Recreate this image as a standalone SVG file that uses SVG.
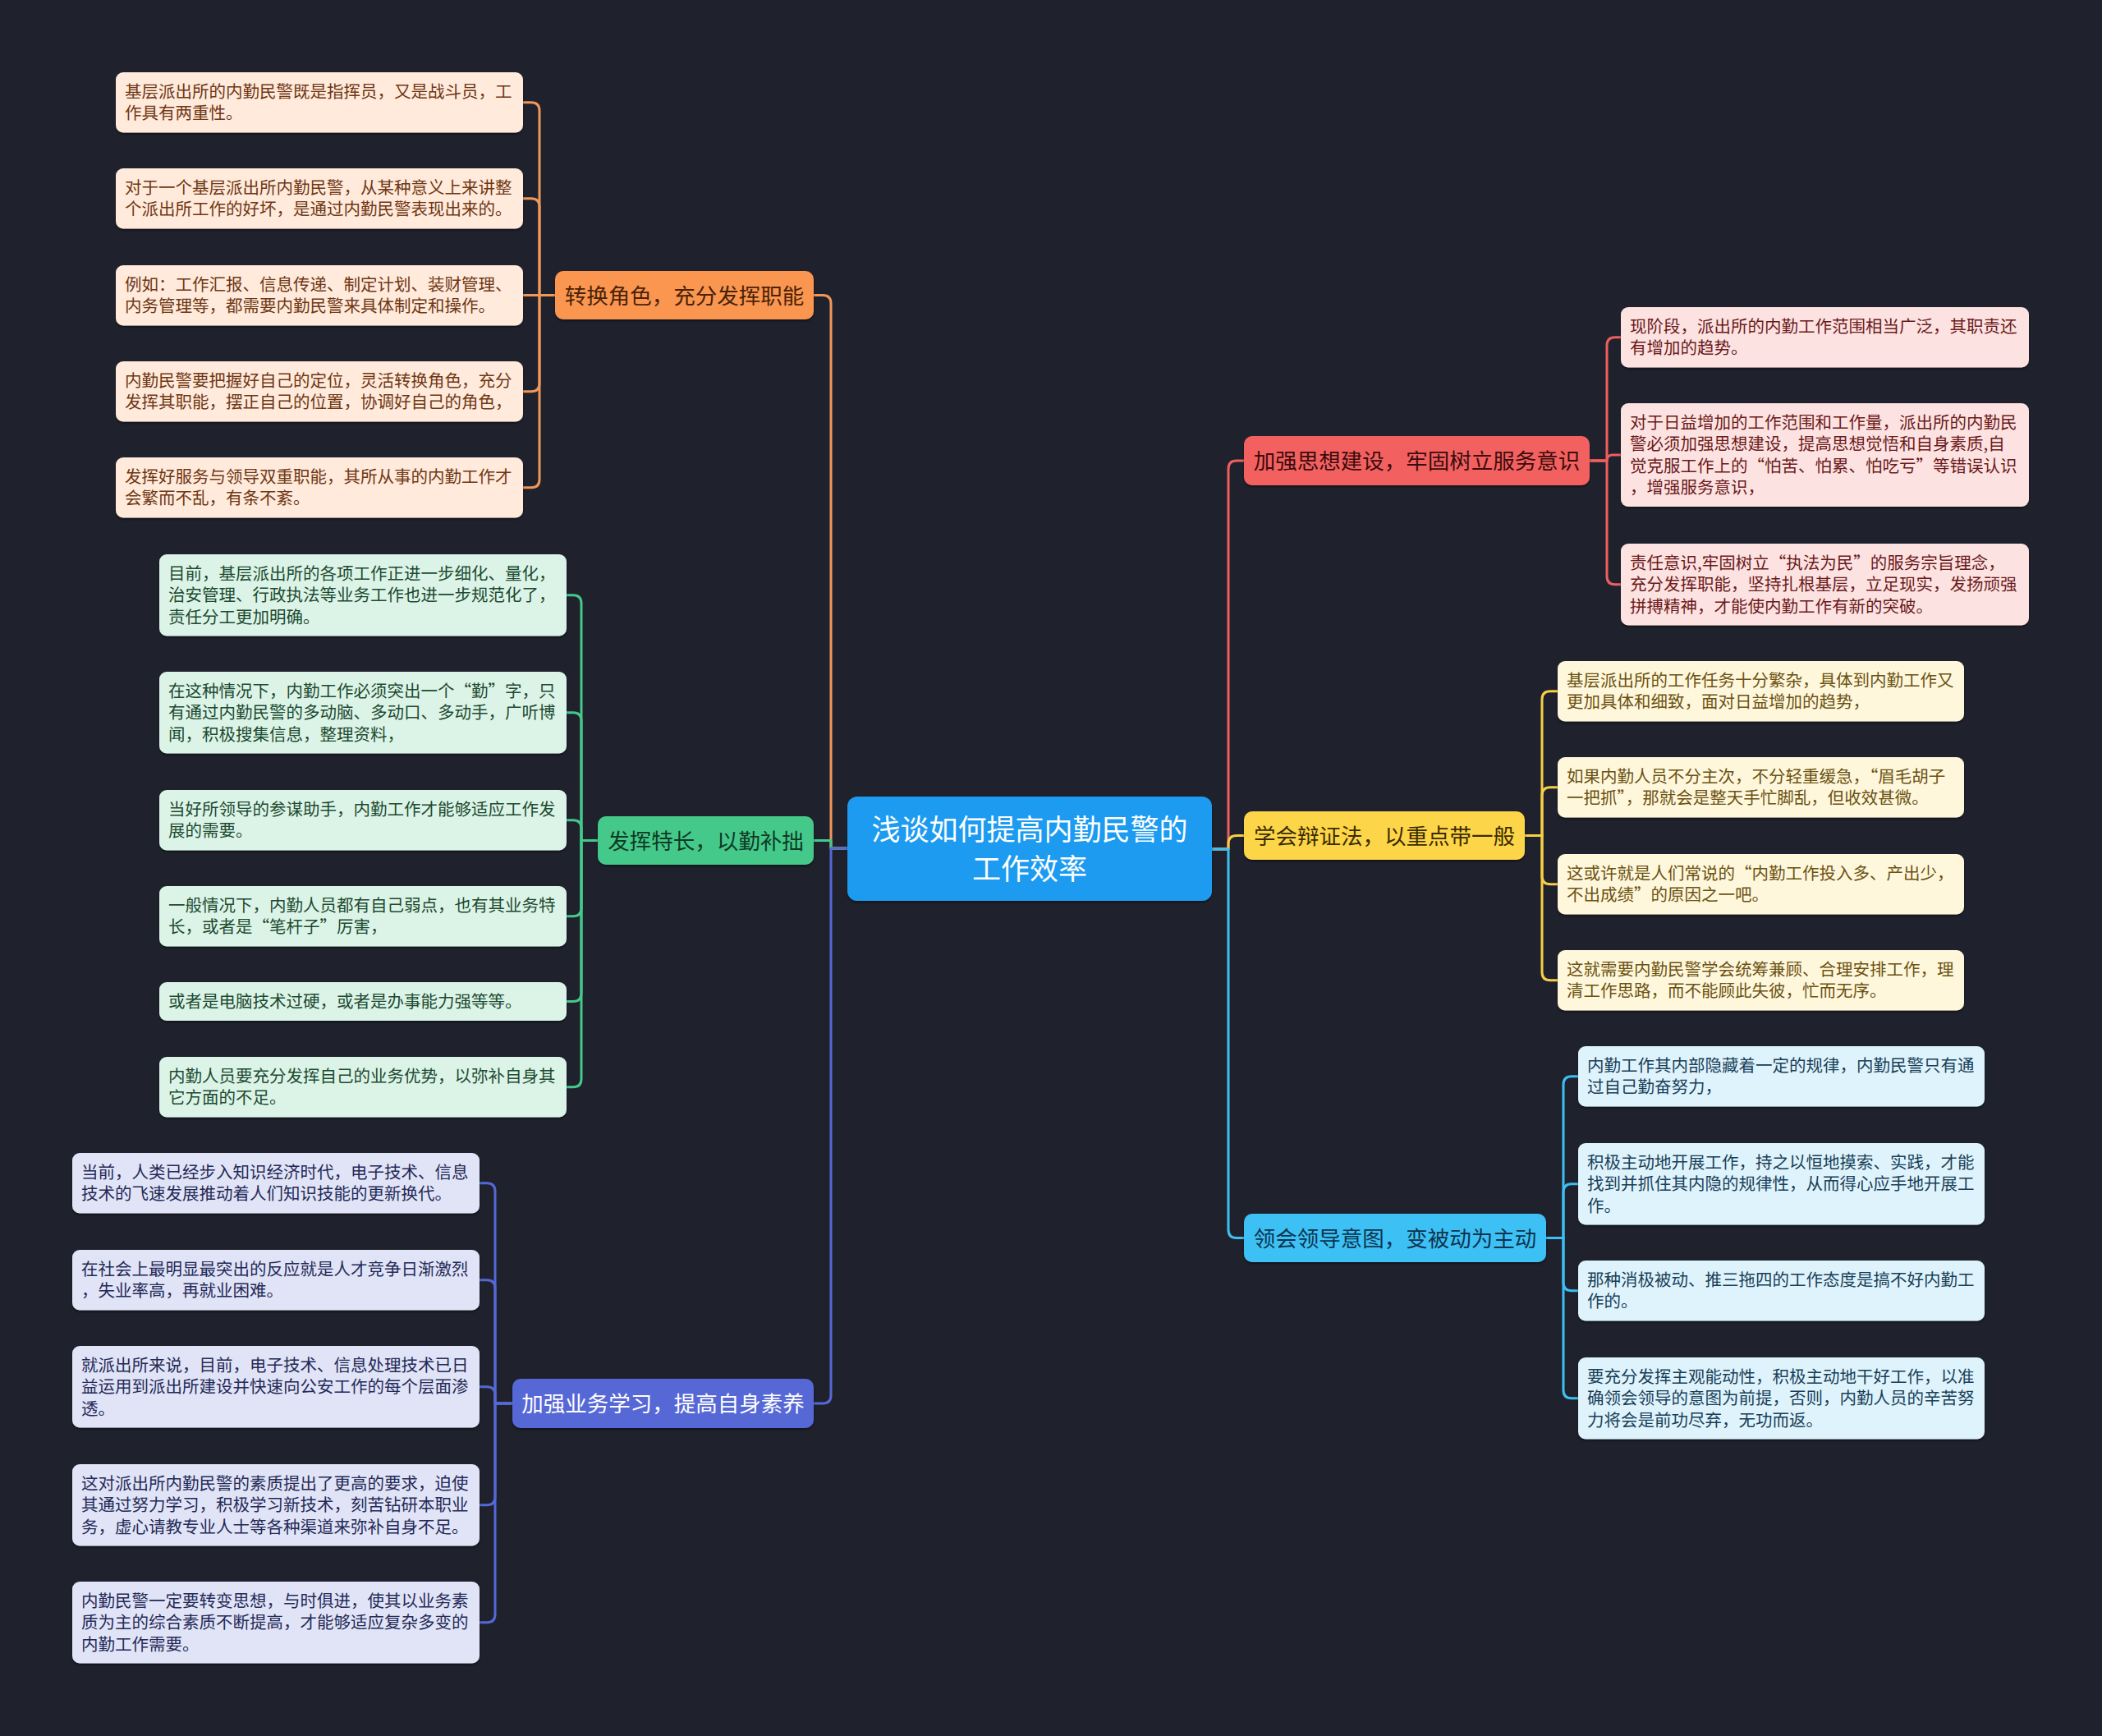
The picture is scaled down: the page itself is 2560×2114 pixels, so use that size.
<svg xmlns="http://www.w3.org/2000/svg" width="2560" height="2114" viewBox="0 0 2560 2114">
<defs>
<style>
text{font-family:"Noto Sans CJK SC","Noto Sans",sans-serif;}
.leaf{font-size:20.5px;}
.br{font-size:26.5px;text-anchor:middle;}
.ct{font-size:35px;text-anchor:middle;fill:#ffffff;}
.c path{fill:none;stroke-width:3;stroke-linecap:round;stroke-linejoin:round;}
.box{filter:url(#sh);}
</style>
<filter id="sh" x="-5%" y="-10%" width="110%" height="130%">
<feDropShadow dx="0" dy="2" stdDeviation="1.5" flood-color="#000000" flood-opacity="0.45"/>
</filter>
</defs>
<rect width="2560" height="2114" fill="#1f222d"/>

<g id="connectors" class="c">
<g stroke="#f0975a">
<path d="M991 359.5 H1002 Q1012 359.5 1012 369.5 V1033 H1032"/>
<path d="M676 359.5 H657 V134.75 Q657 124.75 647 124.75 H637"/>
<path d="M676 359.5 H657 V251.75 Q657 241.75 647 241.75 H637"/>
<path d="M676 359.5 H637"/>
<path d="M676 359.5 H657 V466.75 Q657 476.75 647 476.75 H637"/>
<path d="M676 359.5 H657 V583.75 Q657 593.75 647 593.75 H637"/>
</g>
<g stroke="#45c98b">
<path d="M991 1023.5 H1012 V1033 H1032"/>
<path d="M728 1023.5 H708 V734.75 Q708 724.75 698 724.75 H690"/>
<path d="M728 1023.5 H708 V877.75 Q708 867.75 698 867.75 H690"/>
<path d="M728 1023.5 H708 V1008.75 Q708 998.75 698 998.75 H690"/>
<path d="M728 1023.5 H708 V1105.75 Q708 1115.75 698 1115.75 H690"/>
<path d="M728 1023.5 H708 V1209.5 Q708 1219.5 698 1219.5 H690"/>
<path d="M728 1023.5 H708 V1313.75 Q708 1323.75 698 1323.75 H690"/>
</g>
<g stroke="#5668d6">
<path d="M991 1709 H1002 Q1012 1709 1012 1699 V1033 H1032"/>
<path d="M624 1709 H603 V1450.75 Q603 1440.75 593 1440.75 H584"/>
<path d="M624 1709 H603 V1568.75 Q603 1558.75 593 1558.75 H584"/>
<path d="M624 1709 H603 V1698.75 Q603 1688.75 593 1688.75 H584"/>
<path d="M624 1709 H603 V1822.75 Q603 1832.75 593 1832.75 H584"/>
<path d="M624 1709 H603 V1965.75 Q603 1975.75 593 1975.75 H584"/>
</g>
<g stroke="#ee5f5f">
<path d="M1476 1034 H1496 V571 Q1496 561 1506 561 H1515"/>
<path d="M1936 561 H1957 V420.75 Q1957 410.75 1967 410.75 H1974"/>
<path d="M1936 561 H1957 Q1957 554 1964 554 H1974"/>
<path d="M1936 561 H1957 V701.75 Q1957 711.75 1967 711.75 H1974"/>
</g>
<g stroke="#f7cf45">
<path d="M1476 1034 H1496 V1027.5 Q1496 1017.5 1506 1017.5 H1515"/>
<path d="M1857 1017.5 H1878 V851.75 Q1878 841.75 1888 841.75 H1897"/>
<path d="M1857 1017.5 H1878 V968.75 Q1878 958.75 1888 958.75 H1897"/>
<path d="M1857 1017.5 H1878 V1066.75 Q1878 1076.75 1888 1076.75 H1897"/>
<path d="M1857 1017.5 H1878 V1183.75 Q1878 1193.75 1888 1193.75 H1897"/>
</g>
<g stroke="#3ebff3">
<path d="M1476 1034 H1496 V1497.5 Q1496 1507.5 1506 1507.5 H1515"/>
<path d="M1883 1507.5 H1904 V1320.75 Q1904 1310.75 1914 1310.75 H1922"/>
<path d="M1883 1507.5 H1904 V1451.75 Q1904 1441.75 1914 1441.75 H1922"/>
<path d="M1883 1507.5 H1904 V1561.75 Q1904 1571.75 1914 1571.75 H1922"/>
<path d="M1883 1507.5 H1904 V1692.75 Q1904 1702.75 1914 1702.75 H1922"/>
</g>
</g>

<g id="root">
<rect class="box" x="1032" y="970" width="444" height="127" rx="12" fill="#1e9bf0"/>
<text class="ct"><tspan x="1254" y="1023">浅谈如何提高内勤民警的</tspan><tspan x="1254" y="1071">工作效率</tspan></text>
</g>

<!-- Orange branch -->
<g id="b1">
<rect class="box" x="676" y="330" width="315" height="59" rx="10" fill="#fa9650"/>
<text class="br" x="833.5" y="369.5" fill="#4a2208">转换角色，充分发挥职能</text>
</g>
<g id="b1l1"><rect class="box" x="141" y="88" width="496" height="73.5" rx="9" fill="#ffeadb"/>
<text class="leaf" fill="#6f3714"><tspan x="152" y="118.75">基层派出所的内勤民警既是指挥员，又是战斗员，工</tspan><tspan x="152" y="145.25">作具有两重性。</tspan></text></g>
<g id="b1l2"><rect class="box" x="141" y="205" width="496" height="73.5" rx="9" fill="#ffeadb"/>
<text class="leaf" fill="#6f3714"><tspan x="152" y="235.75">对于一个基层派出所内勤民警，从某种意义上来讲整</tspan><tspan x="152" y="262.25">个派出所工作的好坏，是通过内勤民警表现出来的。</tspan></text></g>
<g id="b1l3"><rect class="box" x="141" y="323" width="496" height="73.5" rx="9" fill="#ffeadb"/>
<text class="leaf" fill="#6f3714"><tspan x="152" y="353.75">例如：工作汇报、信息传递、制定计划、装财管理、</tspan><tspan x="152" y="380.25">内务管理等，都需要内勤民警来具体制定和操作。</tspan></text></g>
<g id="b1l4"><rect class="box" x="141" y="440" width="496" height="73.5" rx="9" fill="#ffeadb"/>
<text class="leaf" fill="#6f3714"><tspan x="152" y="470.75">内勤民警要把握好自己的定位，灵活转换角色，充分</tspan><tspan x="152" y="497.25">发挥其职能，摆正自己的位置，协调好自己的角色，</tspan></text></g>
<g id="b1l5"><rect class="box" x="141" y="557" width="496" height="73.5" rx="9" fill="#ffeadb"/>
<text class="leaf" fill="#6f3714"><tspan x="152" y="587.75">发挥好服务与领导双重职能，其所从事的内勤工作才</tspan><tspan x="152" y="614.25">会繁而不乱，有条不紊。</tspan></text></g>

<!-- Green branch -->
<g id="b2">
<rect class="box" x="728" y="994" width="263" height="59" rx="10" fill="#45c98b"/>
<text class="br" x="859.5" y="1033.5" fill="#0e3b24">发挥特长，以勤补拙</text>
</g>
<g id="b2l1"><rect class="box" x="194" y="675" width="496" height="99.5" rx="9" fill="#dcf4e7"/>
<text class="leaf" fill="#1d4a31"><tspan x="205" y="705.75">目前，基层派出所的各项工作正进一步细化、量化，</tspan><tspan x="205" y="732.25">治安管理、行政执法等业务工作也进一步规范化了，</tspan><tspan x="205" y="758.75">责任分工更加明确。</tspan></text></g>
<g id="b2l2"><rect class="box" x="194" y="818" width="496" height="99.5" rx="9" fill="#dcf4e7"/>
<text class="leaf" fill="#1d4a31"><tspan x="205" y="848.75">在这种情况下，内勤工作必须突出一个“勤”字，只</tspan><tspan x="205" y="875.25">有通过内勤民警的多动脑、多动口、多动手，广听博</tspan><tspan x="205" y="901.75">闻，积极搜集信息，整理资料，</tspan></text></g>
<g id="b2l3"><rect class="box" x="194" y="962" width="496" height="73.5" rx="9" fill="#dcf4e7"/>
<text class="leaf" fill="#1d4a31"><tspan x="205" y="992.75">当好所领导的参谋助手，内勤工作才能够适应工作发</tspan><tspan x="205" y="1019.25">展的需要。</tspan></text></g>
<g id="b2l4"><rect class="box" x="194" y="1079" width="496" height="73.5" rx="9" fill="#dcf4e7"/>
<text class="leaf" fill="#1d4a31"><tspan x="205" y="1109.75">一般情况下，内勤人员都有自己弱点，也有其业务特</tspan><tspan x="205" y="1136.25">长，或者是“笔杆子”厉害，</tspan></text></g>
<g id="b2l5"><rect class="box" x="194" y="1196" width="496" height="47" rx="9" fill="#dcf4e7"/>
<text class="leaf" fill="#1d4a31"><tspan x="205" y="1226.75">或者是电脑技术过硬，或者是办事能力强等等。</tspan></text></g>
<g id="b2l6"><rect class="box" x="194" y="1287" width="496" height="73.5" rx="9" fill="#dcf4e7"/>
<text class="leaf" fill="#1d4a31"><tspan x="205" y="1317.75">内勤人员要充分发挥自己的业务优势，以弥补自身其</tspan><tspan x="205" y="1344.25">它方面的不足。</tspan></text></g>

<!-- Purple branch -->
<g id="b3">
<rect class="box" x="624" y="1679" width="367" height="60" rx="10" fill="#5668d6"/>
<text class="br" x="807.5" y="1719" fill="#ffffff">加强业务学习，提高自身素养</text>
</g>
<g id="b3l1"><rect class="box" x="88" y="1404" width="496" height="73.5" rx="9" fill="#e1e4f6"/>
<text class="leaf" fill="#242a58"><tspan x="99" y="1434.75">当前，人类已经步入知识经济时代，电子技术、信息</tspan><tspan x="99" y="1461.25">技术的飞速发展推动着人们知识技能的更新换代。</tspan></text></g>
<g id="b3l2"><rect class="box" x="88" y="1522" width="496" height="73.5" rx="9" fill="#e1e4f6"/>
<text class="leaf" fill="#242a58"><tspan x="99" y="1552.75">在社会上最明显最突出的反应就是人才竞争日渐激烈</tspan><tspan x="99" y="1579.25">，失业率高，再就业困难。</tspan></text></g>
<g id="b3l3"><rect class="box" x="88" y="1639" width="496" height="99.5" rx="9" fill="#e1e4f6"/>
<text class="leaf" fill="#242a58"><tspan x="99" y="1669.75">就派出所来说，目前，电子技术、信息处理技术已日</tspan><tspan x="99" y="1696.25">益运用到派出所建设并快速向公安工作的每个层面渗</tspan><tspan x="99" y="1722.75">透。</tspan></text></g>
<g id="b3l4"><rect class="box" x="88" y="1783" width="496" height="99.5" rx="9" fill="#e1e4f6"/>
<text class="leaf" fill="#242a58"><tspan x="99" y="1813.75">这对派出所内勤民警的素质提出了更高的要求，迫使</tspan><tspan x="99" y="1840.25">其通过努力学习，积极学习新技术，刻苦钻研本职业</tspan><tspan x="99" y="1866.75">务，虚心请教专业人士等各种渠道来弥补自身不足。</tspan></text></g>
<g id="b3l5"><rect class="box" x="88" y="1926" width="496" height="99.5" rx="9" fill="#e1e4f6"/>
<text class="leaf" fill="#242a58"><tspan x="99" y="1956.75">内勤民警一定要转变思想，与时俱进，使其以业务素</tspan><tspan x="99" y="1983.25">质为主的综合素质不断提高，才能够适应复杂多变的</tspan><tspan x="99" y="2009.75">内勤工作需要。</tspan></text></g>

<!-- Red branch -->
<g id="b4">
<rect class="box" x="1515" y="531" width="421" height="60" rx="10" fill="#f26060"/>
<text class="br" x="1725.5" y="571" fill="#3b0c0c">加强思想建设，牢固树立服务意识</text>
</g>
<g id="b4l1"><rect class="box" x="1974" y="374" width="497" height="73.5" rx="9" fill="#fde2e2"/>
<text class="leaf" fill="#6b1a1a"><tspan x="1985" y="404.75">现阶段，派出所的内勤工作范围相当广泛，其职责还</tspan><tspan x="1985" y="431.25">有增加的趋势。</tspan></text></g>
<g id="b4l2"><rect class="box" x="1974" y="491" width="497" height="126" rx="9" fill="#fde2e2"/>
<text class="leaf" fill="#6b1a1a"><tspan x="1985" y="521.75">对于日益增加的工作范围和工作量，派出所的内勤民</tspan><tspan x="1985" y="548.25">警必须加强思想建设，提高思想觉悟和自身素质,自</tspan><tspan x="1985" y="574.75">觉克服工作上的“怕苦、怕累、怕吃亏”等错误认识</tspan><tspan x="1985" y="601.25">，增强服务意识，</tspan></text></g>
<g id="b4l3"><rect class="box" x="1974" y="662" width="497" height="99.5" rx="9" fill="#fde2e2"/>
<text class="leaf" fill="#6b1a1a"><tspan x="1985" y="692.75">责任意识,牢固树立“执法为民”的服务宗旨理念，</tspan><tspan x="1985" y="719.25">充分发挥职能，坚持扎根基层，立足现实，发扬顽强</tspan><tspan x="1985" y="745.75">拼搏精神，才能使内勤工作有新的突破。</tspan></text></g>

<!-- Yellow branch -->
<g id="b5">
<rect class="box" x="1515" y="988" width="342" height="59" rx="10" fill="#fdd54a"/>
<text class="br" x="1686" y="1027.5" fill="#3a2c00">学会辩证法，以重点带一般</text>
</g>
<g id="b5l1"><rect class="box" x="1897" y="805" width="495" height="73.5" rx="9" fill="#fff7dc"/>
<text class="leaf" fill="#6b5212"><tspan x="1908" y="835.75">基层派出所的工作任务十分繁杂，具体到内勤工作又</tspan><tspan x="1908" y="862.25">更加具体和细致，面对日益增加的趋势，</tspan></text></g>
<g id="b5l2"><rect class="box" x="1897" y="922" width="495" height="73.5" rx="9" fill="#fff7dc"/>
<text class="leaf" fill="#6b5212"><tspan x="1908" y="952.75">如果内勤人员不分主次，不分轻重缓急，“眉毛胡子</tspan><tspan x="1908" y="979.25">一把抓”，那就会是整天手忙脚乱，但收效甚微。</tspan></text></g>
<g id="b5l3"><rect class="box" x="1897" y="1040" width="495" height="73.5" rx="9" fill="#fff7dc"/>
<text class="leaf" fill="#6b5212"><tspan x="1908" y="1070.75">这或许就是人们常说的“内勤工作投入多、产出少，</tspan><tspan x="1908" y="1097.25">不出成绩”的原因之一吧。</tspan></text></g>
<g id="b5l4"><rect class="box" x="1897" y="1157" width="495" height="73.5" rx="9" fill="#fff7dc"/>
<text class="leaf" fill="#6b5212"><tspan x="1908" y="1187.75">这就需要内勤民警学会统筹兼顾、合理安排工作，理</tspan><tspan x="1908" y="1214.25">清工作思路，而不能顾此失彼，忙而无序。</tspan></text></g>

<!-- Light blue branch -->
<g id="b6">
<rect class="box" x="1515" y="1478" width="368" height="59" rx="10" fill="#3ec1f5"/>
<text class="br" x="1699" y="1517.5" fill="#0c344e">领会领导意图，变被动为主动</text>
</g>
<g id="b6l1"><rect class="box" x="1922" y="1274" width="495" height="73.5" rx="9" fill="#dff3fc"/>
<text class="leaf" fill="#183f58"><tspan x="1933" y="1304.75">内勤工作其内部隐藏着一定的规律，内勤民警只有通</tspan><tspan x="1933" y="1331.25">过自己勤奋努力，</tspan></text></g>
<g id="b6l2"><rect class="box" x="1922" y="1392" width="495" height="99.5" rx="9" fill="#dff3fc"/>
<text class="leaf" fill="#183f58"><tspan x="1933" y="1422.75">积极主动地开展工作，持之以恒地摸索、实践，才能</tspan><tspan x="1933" y="1449.25">找到并抓住其内隐的规律性，从而得心应手地开展工</tspan><tspan x="1933" y="1475.75">作。</tspan></text></g>
<g id="b6l3"><rect class="box" x="1922" y="1535" width="495" height="73.5" rx="9" fill="#dff3fc"/>
<text class="leaf" fill="#183f58"><tspan x="1933" y="1565.75">那种消极被动、推三拖四的工作态度是搞不好内勤工</tspan><tspan x="1933" y="1592.25">作的。</tspan></text></g>
<g id="b6l4"><rect class="box" x="1922" y="1653" width="495" height="99.5" rx="9" fill="#dff3fc"/>
<text class="leaf" fill="#183f58"><tspan x="1933" y="1683.75">要充分发挥主观能动性，积极主动地干好工作，以准</tspan><tspan x="1933" y="1710.25">确领会领导的意图为前提，否则，内勤人员的辛苦努</tspan><tspan x="1933" y="1736.75">力将会是前功尽弃，无功而返。</tspan></text></g>
</svg>
